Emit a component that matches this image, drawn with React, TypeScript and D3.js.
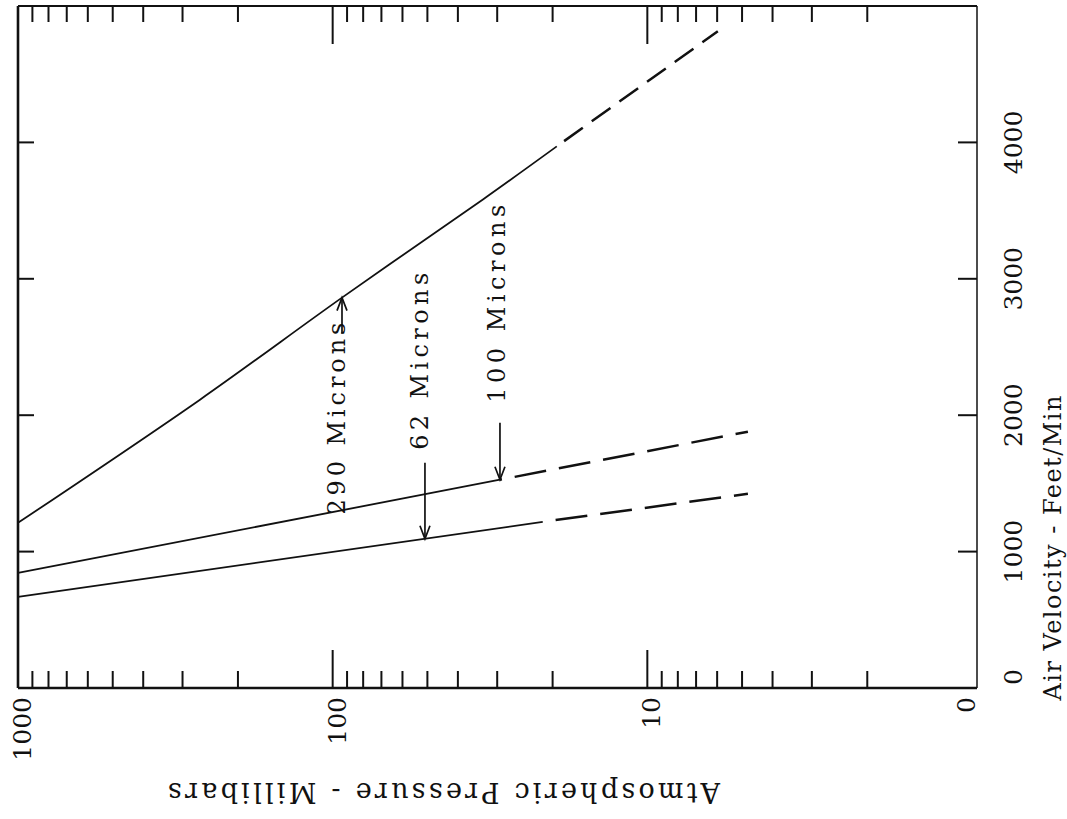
import * as d3 from "d3";

// pressure (mb) on the horizontal log axis, velocity (ft/min) on the vertical one
const pressureMajor = [100, 10];
const pressureMinor = [900, 800, 700, 600, 500, 400, 300, 200, 90, 80, 70, 60, 50, 40, 30, 20, 9, 8, 7, 6, 5, 4, 3, 2];
const pressureLabelValues = [1000, 100, 10, 1];
const pressureLabels = ["1000", "100", "10", "0"];
const velocityTicks = [1000, 2000, 3000, 4000];
const velocityLabelValues = [0, 1000, 2000, 3000, 4000];

// [pressure, velocity]
const solid290 = [[1000, 1211], [264, 2114], [93.4, 2862], [33.3, 3582], [19.4, 3971]];
const dashed290 = [[19.4, 3971], [5.97, 4815]];
const solid100 = [[1000, 844], [29.4, 1527]];
const dashed100 = [[29.4, 1527], [4.79, 1879]];
const solid62 = [[1000, 668], [21.5, 1218]];
const dashed62 = [[21.5, 1218], [4.79, 1424]];

const annotationLabels = ["290 Microns", "62 Microns", "100 Microns"];
const annotationPressure = [93.4, 50.9, 29.4];
const annotationVelocity = [2862, 1094, 1527];

// layout of each annotation relative to its arrow tip
const annotationLayout = [
  { dx: 3, textStart: 217, textLength: 192, shaftFrom: 0, shaftTo: 36, up: true },
  { dx: 3, textStart: -89, textLength: 177, shaftFrom: -76, shaftTo: 0, up: false },
  { dx: 5, textStart: -77, textLength: 198, shaftFrom: -57, shaftTo: 0, up: false },
];

export default function App() {
  const width = 1067;
  const height = 819;
  const frameLeft = 18;
  const frameRight = 977;
  const frameTop = 6;
  const frameBottom = 688;
  const font = "'DejaVu Serif', serif";

  const x = d3.scaleLog().domain([1000, 1]).range([frameLeft, 962]);
  const y = d3.scaleLinear().domain([0, 5000]).range([frameBottom, frameTop]);

  const smooth = d3
    .line<number[]>()
    .x((d) => x(d[0]))
    .y((d) => y(d[1]))
    .curve(d3.curveCatmullRom.alpha(0.5));

  const series = [
    { solid: solid290, dashed: dashed290, dash: "23 11", offset: 25 },
    { solid: solid100, dashed: dashed100, dash: "32 13", offset: 30 },
    { solid: solid62, dashed: dashed62, dash: "32 13", offset: 32 },
  ];

  return (
    <svg
      width={width}
      height={height}
      style={{ position: "absolute", left: 0, top: 0, background: "#fff" }}
    >
      <g stroke="#111" fill="none" strokeLinecap="butt">
        {/* frame */}
        <line x1={frameLeft} x2={frameLeft} y1={frameTop} y2={frameBottom} strokeWidth={2.6} />
        <line x1={frameLeft} x2={frameRight} y1={frameBottom} y2={frameBottom} strokeWidth={2.4} />
        <line x1={frameLeft} x2={frameRight} y1={frameTop} y2={frameTop} strokeWidth={2} />
        <line x1={frameRight} x2={frameRight} y1={frameTop} y2={frameBottom} strokeWidth={1.5} />

        {/* pressure ticks, top and bottom */}
        {pressureMinor.map((p) => (
          <g key={`m${p}`} strokeWidth={2}>
            <line x1={x(p)} x2={x(p)} y1={frameTop} y2={frameTop + 16} />
            <line x1={x(p)} x2={x(p)} y1={frameBottom} y2={frameBottom - 17} />
          </g>
        ))}
        {pressureMajor.map((p) => (
          <g key={`M${p}`} strokeWidth={2}>
            <line x1={x(p)} x2={x(p)} y1={frameTop} y2={frameTop + 38} />
            <line x1={x(p)} x2={x(p)} y1={frameBottom} y2={frameBottom - 38} />
          </g>
        ))}

        {/* velocity ticks, left and right */}
        {velocityTicks.map((v) => (
          <g key={`v${v}`} strokeWidth={2}>
            <line x1={frameLeft} x2={frameLeft + 16} y1={y(v)} y2={y(v)} />
            <line x1={frameRight} x2={frameRight - 19} y1={y(v)} y2={y(v)} />
          </g>
        ))}

        {/* curves */}
        {series.map((s, i) => (
          <g key={i}>
            <path d={smooth(s.solid) ?? ""} strokeWidth={1.8} />
            <path
              d={smooth(s.dashed) ?? ""}
              strokeWidth={2.5}
              strokeDasharray={s.dash}
              strokeDashoffset={s.offset}
            />
          </g>
        ))}

        {/* annotation arrows */}
        {annotationLabels.map((label, i) => {
          const tx = x(annotationPressure[i]);
          const ty = y(annotationVelocity[i]);
          const l = annotationLayout[i];
          const dir = l.up ? 1 : -1;
          return (
            <g key={label} strokeWidth={1.7}>
              <line x1={tx} x2={tx} y1={ty + l.shaftFrom} y2={ty + l.shaftTo} />
              <path
                d={`M${tx - 5},${ty + dir * 13}L${tx},${ty}L${tx + 5},${ty + dir * 13}`}
              />
            </g>
          );
        })}
      </g>

      <g fill="#111" fontFamily={font}>
        {annotationLabels.map((label, i) => {
          const tx = x(annotationPressure[i]);
          const ty = y(annotationVelocity[i]);
          const l = annotationLayout[i];
          return (
            <text
              key={label}
              transform={`translate(${tx + l.dx},${ty + l.textStart}) rotate(-90)`}
              fontSize={24}
              textLength={l.textLength}
              lengthAdjust="spacing"
            >
              {label}
            </text>
          );
        })}

        {/* pressure labels */}
        {pressureLabelValues.map((p, i) => (
          <text
            key={p}
            transform={`translate(${x(p) + 13},${frameBottom + 9}) rotate(-90)`}
            textAnchor="end"
            fontSize={25}
          >
            {pressureLabels[i]}
          </text>
        ))}

        {/* velocity labels */}
        {velocityLabelValues.map((v) => (
          <text
            key={v}
            transform={`translate(1022,${v === 0 ? y(v) - 11 : y(v)}) rotate(-90)`}
            textAnchor="middle"
            fontSize={25}
          >
            {v}
          </text>
        ))}

        <text
          transform="translate(1061,548) rotate(-90)"
          textAnchor="middle"
          fontSize={24}
          textLength={305}
          lengthAdjust="spacing"
        >
          Air Velocity - Feet/Min
        </text>

        <text
          transform="translate(444,783) rotate(180)"
          textAnchor="middle"
          fontSize={27}
          textLength={552}
          lengthAdjust="spacing"
        >
          Atmospheric Pressure - Millibars
        </text>
      </g>
    </svg>
  );
}
